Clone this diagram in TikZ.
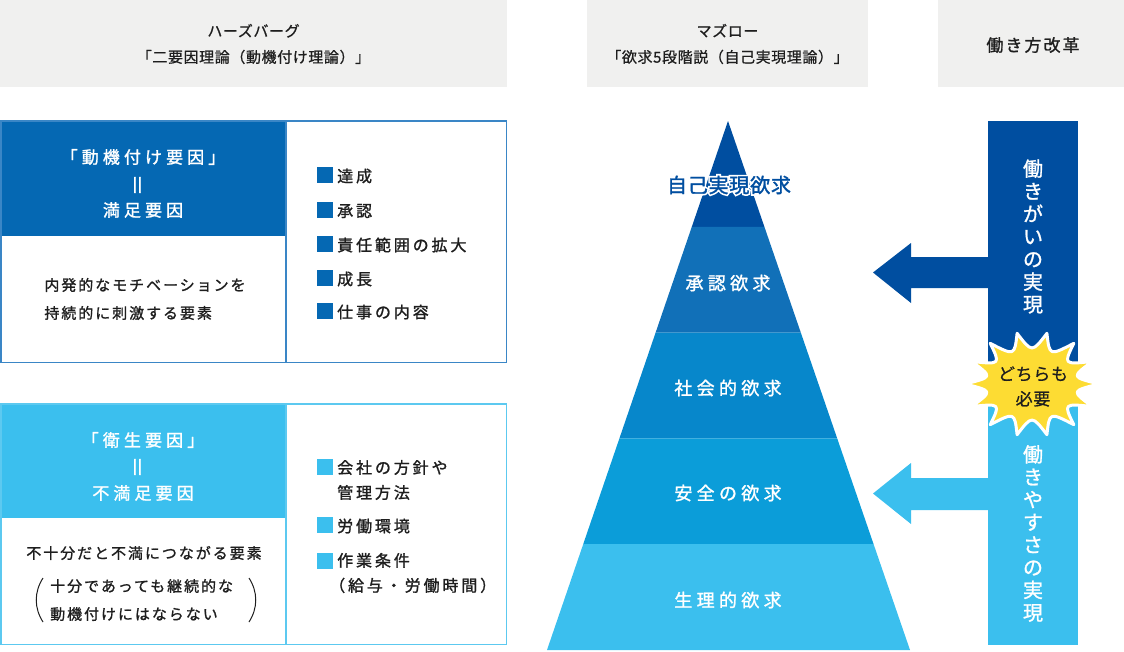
\documentclass[tikz,border=0pt]{standalone}
\usepackage{fontspec}
\setmainfont{Noto Sans CJK JP}
\newfontfamily\jp[FakeBold=1.2]{Noto Sans CJK JP}
\newfontfamily\jpA[LetterSpace=4,FakeBold=0.8]{Noto Sans CJK JP}
\newfontfamily\jpB[LetterSpace=24,FakeBold=1.4]{Noto Sans CJK JP}
\newfontfamily\jpC[LetterSpace=18,FakeBold=1.3]{Noto Sans CJK JP}
\newfontfamily\jpD[LetterSpace=13,FakeBold=1.2]{Noto Sans CJK JP}
\newfontfamily\jpE[LetterSpace=12,FakeBold=1.2]{Noto Sans CJK JP}
\newfontfamily\jpF[LetterSpace=4,FakeBold=1.6]{Noto Sans CJK JP}
\newfontfamily\jpG[LetterSpace=4,FakeBold=18]{Noto Sans CJK JP}
\usetikzlibrary{calc}
\definecolor{hdr}{HTML}{F0F0EF}
\definecolor{navy}{HTML}{004EA0}
\definecolor{boxdark}{HTML}{0568B3}
\definecolor{boxdarkline}{HTML}{3A86C6}
\definecolor{sky}{HTML}{3BBFEE}
\definecolor{skyline}{HTML}{5CC9F0}
\definecolor{lvlA}{HTML}{004EA0}
\definecolor{lvlB}{HTML}{1170B8}
\definecolor{lvlC}{HTML}{0787CB}
\definecolor{lvlD}{HTML}{0B9DD9}
\definecolor{lvlE}{HTML}{3BBFEE}
\definecolor{stary}{HTML}{FDDC33}
\definecolor{ink}{HTML}{1E1E1E}
\begin{document}
\begin{tikzpicture}[x=1pt,y=-1pt,
  hdrtext/.style={inner sep=0, align=center, text=ink, font=\fontsize{15}{26}\selectfont\jpA},
  wtitle/.style={inner sep=0, text=white, font=\fontsize{17}{20}\selectfont\jpB},
  eqmark/.style={inner sep=0, text=white, rotate=90, font=\fontsize{22}{22}\selectfont\jp},
  bodytext/.style={inner sep=0, text=ink, font=\fontsize{15}{28}\selectfont\jpD},
  itemtext/.style={inner sep=0, anchor=west, text=ink, font=\fontsize{16}{25}\selectfont\jpC},
  sqdark/.style={inner sep=0, minimum size=16, fill=boxdark},
  sqsky/.style={inner sep=0, minimum size=16, fill=sky},
  plabel/.style={inner sep=0, text=white, font=\fontsize{18}{20}\selectfont\jpB},
  toplabel/.style={inner sep=0, font=\fontsize{20}{22}\selectfont\jpF},
  vtext/.style={inner sep=0, align=center, text=white, font=\fontsize{20}{22.6}\selectfont\jp},
]
\useasboundingbox (0,0) rectangle (1124,651);

% ---------- headers ----------
\fill[hdr] (0,0) rectangle (507,87);
\fill[hdr] (587,0) rectangle (868,87);
\fill[hdr] (938,0) rectangle (1124,87);
\node[hdrtext] (h1) at (253.5,44) {ハーズバーグ\\「二要因理論（動機付け理論）」};
\node[hdrtext] (h2) at (727.5,44) {マズロー\\「欲求5段階説（自己実現理論）」};
\node[hdrtext, font=\fontsize{17}{20}\selectfont\jpE] (h3) at (1033,45) {働き方改革};

% ---------- Herzberg top box ----------
\fill[boxdark] (0,120) rectangle (286,236);
\draw[boxdarkline, line width=1.5] (0.75,120.75) rectangle (286,362.25);
\draw[boxdarkline, line width=1.5] (286,120.75) rectangle (506.25,362.25);
\node[wtitle] (mt1) at (143,157) {「動機付け要因」};
\node[eqmark] (mt2) at (140,185) {＝};
\node[wtitle] (mt3) at (143,210) {満足要因};
\node[bodytext, align=left] (md) at (145,299) {内発的なモチベーションを\\持続的に刺激する要素};

\node[sqdark] (sa1) at (325,175) {};
\node[itemtext] (la1) at (337,176) {達成};
\node[sqdark] (sa2) at (325,210) {};
\node[itemtext] (la2) at (337,211) {承認};
\node[sqdark] (sa3) at (325,244) {};
\node[itemtext] (la3) at (337,245) {責任範囲の拡大};
\node[sqdark] (sa4) at (325,278) {};
\node[itemtext] (la4) at (337,279) {成長};
\node[sqdark] (sa5) at (325,311) {};
\node[itemtext] (la5) at (337,312) {仕事の内容};

% ---------- Herzberg bottom box ----------
\fill[sky] (0,403) rectangle (286,518);
\draw[skyline, line width=1.5] (0.75,403.75) rectangle (286,644.25);
\draw[skyline, line width=1.5] (286,403.75) rectangle (506.25,644.25);
\node[wtitle] (ht1) at (143,440) {「衛生要因」};
\node[eqmark] (ht2) at (140,467) {＝};
\node[wtitle] (ht3) at (143,493) {不満足要因};
\node[bodytext] (hd1) at (144,553) {不十分だと不満につながる要素};
\node[bodytext, align=left, anchor=west] (hd2) at (50,600) {十分であっても継続的な\\動機付けにはならない};
\draw[ink, line width=1] (43,578) .. controls (34,592) and (34,608) .. (43,622);
\draw[ink, line width=1] (249,578) .. controls (258,592) and (258,608) .. (249,622);

\node[sqsky] (sb1) at (325,467) {};
\node[itemtext, align=left] (lb1) at (337,480) {会社の方針や\\管理方法};
\node[sqsky] (sb2) at (325,525) {};
\node[itemtext] (lb2) at (337,526) {労働環境};
\node[sqsky] (sb3) at (325,561) {};
\node[itemtext, align=left] (lb3) at (337,573) {作業条件\\\hspace*{-8pt}（給与・労働時間）};

% ---------- Maslow pyramid ----------
\coordinate (apex) at (728,121);
\coordinate (bl) at (547,650);
\coordinate (br) at (910,650);
\foreach \k/\c in {0/lvlA,1/lvlB,2/lvlC,3/lvlD,4/lvlE}{
  \fill[\c] ($(apex)!{\k/5}!(bl)$) -- ($(apex)!{(\k+1)/5}!(bl)$)
            -- ($(apex)!{(\k+1)/5}!(br)$) -- ($(apex)!{\k/5}!(br)$) -- cycle;
}
\node[toplabel, text=white, font=\fontsize{20}{22}\selectfont\jpG] (p1o) at (729,185) {自己実現欲求};
\node[toplabel, text=navy] (p1) at (729,185) {自己実現欲求};
\node[plabel] (p2) at (728,283) {承認欲求};
\node[plabel] (p3) at (728,388) {社会的欲求};
\node[plabel] (p4) at (728,493) {安全の欲求};
\node[plabel] (p5) at (728,600) {生理的欲求};

% ---------- work style reform ----------
\fill[navy] (988,121) rectangle (1078,400);
\fill[sky] (988,370) rectangle (1078,645);
\fill[navy] (988,257) -- (911,257) -- (911,243) -- (873,272.5) -- (911,303) -- (911,288) -- (988,288) -- cycle;
\fill[sky] (988,478) -- (911,478) -- (911,463) -- (873,493.5) -- (911,524) -- (911,510) -- (988,510) -- cycle;

\fill[stary, draw=white, line width=3, line join=round] (1032+67,384)
  \foreach \i in {1,...,14}{
    .. controls ({1032+67*0.6*cos((\i-0.5)*360/14)},{384+52*0.6*sin((\i-0.5)*360/14)}) .. ({1032+67*cos(\i*360/14)},{384+52*sin(\i*360/14)})
  } -- cycle;
\node[inner sep=0, align=center, text=ink, font=\fontsize{17}{25}\selectfont\jpA] (st) at (1033,386.5) {どちらも\\必要};

\node[vtext] (v1) at (1033,236.5) {働\\き\\が\\い\\の\\実\\現};
\node[vtext] (v2) at (1033,533.5) {働\\き\\や\\す\\さ\\の\\実\\現};
\end{tikzpicture}
\end{document}
